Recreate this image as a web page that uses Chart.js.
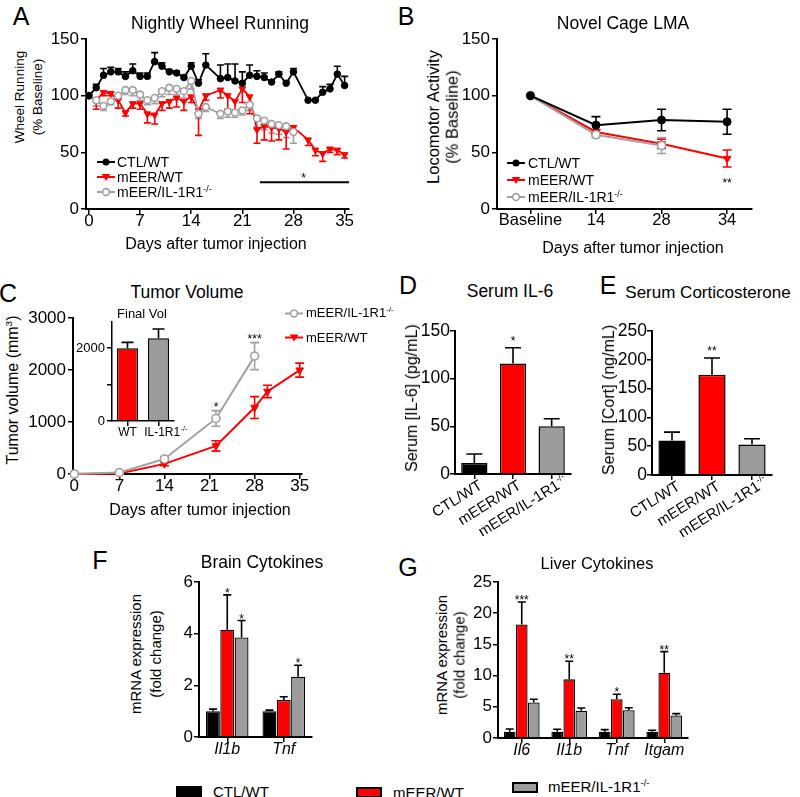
<!DOCTYPE html>
<html>
<head>
<meta charset="utf-8">
<script src="https://cdn.jsdelivr.net/npm/chart.js@4.4.1/dist/chart.umd.min.js"></script>
<style>
  body { margin: 0; width: 800px; height: 797px; overflow: hidden; position: relative; background: #fff;
         font-family: "Liberation Sans", Arial, sans-serif; color: #000; }
  .t { position: absolute; white-space: nowrap; line-height: 1; transform: translate(-50%, -50%); }
  .r { transform: translate(-50%, -50%) rotate(-90deg); }
  canvas { position: absolute; }
  sup { font-size: 62%; vertical-align: 0; position: relative; top: -0.6em; }
</style>
</head>
<body>
<script>
// ---- A: nightly wheel running (% baseline) ----
const aDays = [0,1,2,3,4,5,6,7,8,9,10,11,12,13,14,15,16,17,18,19,20,21,22,23,24,25,26,27,28,29,30,31,32,33,34,35];
const aCtl = [100,107,118,121,121,117,122,117,117,130,126,121,120,116,126,111,127,null,115,116,113,111,118,117,116,112,119,111,121,null,96,96,103,106,119,109];
const aCtlErr = [0,3,6,4,3,4,6,3,3,8,3,2,2,2,3,3,10,null,12,12,15,10,9,5,4,2,2,2,3,null,0,0,5,4,7,8];
const aRed = [100,96,103,102,96,85,93,93,84,83,93,95,98,95,99,87,100,null,105,100,95,106,99,70,73,72,71,68,72,null,61,52,49,53,52,48];
const aRedErr = [0,8,3,2,7,3,4,5,8,8,6,6,8,8,5,22,4,null,7,12,8,12,15,12,12,12,10,15,5,null,5,5,7,3,4,3];
const aGray = [100,96,91,95,100,105,105,101,96,98,104,107,106,104,113,84,90,null,84,86,85,87,92,80,78,75,74,73,68];
const aGrayErr = [0,5,4,3,4,4,5,5,4,5,5,6,5,6,7,4,4,null,4,5,4,4,5,8,8,8,8,10,10];
const aSigDays = [23.4, 35.6];
const aSigLevel = 23.5;
const aStar = { x: 29.4, y: 30, text: '*' };
const aXTicks = [0, 7, 14, 21, 28, 35];
const aYTicks = [0, 50, 100, 150];

// ---- B: novel cage LMA ----
const bLabels = ['Baseline', '14', '28', '34'];
const bCtl = [100, 74, 78.5, 77];
const bCtlErr = [0, 7.5, 9.5, 11];
const bRed = [100, 68, 57.5, 44.5];
const bRedErr = [0, 2, 4, 7.5];
const bGray = [100, 65.5, 56];
const bGrayErr = [0, 2.5, 7];
const bStar = { x: 3, y: 25, text: '**' };
const bYTicks = [0, 50, 100, 150];

// ---- C: tumor volume ----
const cGrayDays = [0, 7, 14, 22, 28];
const cGray = [0, 30, 290, 1070, 2270];
const cGrayErr = [0, 15, 40, 150, 260];
const cGrayStars = ['', '', '', '*', '***'];
const cRedDays = [0, 7, 14, 22, 28, 30, 35];
const cRed = [0, 10, 195, 540, 1280, 1590, 2000];
const cRedErr = [0, 10, 35, 100, 210, 120, 135];
const cXTicks = [0, 7, 14, 21, 28, 35];
const cYTicks = [0, 1000, 2000, 3000];
const insetLabels = ['WT', 'IL-1R1^-/-'];
const insetVals = [1990, 2270];
const insetErr = [165, 250];
const insetYTicks = [0, 1000, 2000];

// ---- D / E: serum ----
const groupLabels = ['CTL/WT', 'mEER/WT', 'mEER/IL-1R1^-/-'];
const dVals = [11.5, 116, 50];
const dErr = [9.5, 16.5, 8];
const dStars = ['', '*', ''];
const dYTicks = [0, 50, 100, 150];
const eVals = [60, 174, 53];
const eErr = [14.5, 29, 10];
const eStars = ['', '**', ''];
const eYTicks = [0, 50, 100, 150, 200, 250];

// ---- F: brain cytokines ----
const fLabels = ['Il1b', 'Tnf'];
const fCtl = [1.0, 1.0];
const fCtlErr = [0.08, 0.04];
const fRed = [4.15, 1.43];
const fRedErr = [1.35, 0.13];
const fRedStars = ['*', ''];
const fGray = [3.85, 2.33];
const fGrayErr = [0.66, 0.45];
const fGrayStars = ['*', '*'];
const fYTicks = [0, 2, 4, 6];

// ---- G: liver cytokines ----
const gLabels = ['Il6', 'Il1b', 'Tnf', 'Itgam'];
const gCtl = [1.0, 1.0, 1.0, 1.0];
const gCtlErr = [0.45, 0.4, 0.35, 0.25];
const gRed = [18.2, 9.4, 6.2, 10.45];
const gRedErr = [3.6, 2.9, 0.8, 3.4];
const gRedStars = ['***', '**', '*', '**'];
const gGray = [5.7, 4.35, 4.45, 3.6];
const gGrayErr = [0.5, 0.45, 0.4, 0.3];
const gYTicks = [0, 5, 10, 15, 20, 25];

const FONT = '"Liberation Sans", Arial, sans-serif';
const BLACK = '#000', RED = '#ff0000', GRAY = '#a0a0a0', BARGRAY = '#9c9c9c';

function val(d) { return d && typeof d === 'object' ? d.y : d; }
function pts(xs, ys) { return ys.map((y, i) => ({ x: xs[i], y })); }

// html text helpers
function txt(x, y, html, size, rot, extraCss) {
  const d = document.createElement('div');
  d.className = 't' + (rot ? ' r' : '');
  d.style.left = x + 'px';
  d.style.top = y + 'px';
  d.style.fontSize = size + 'px';
  if (extraCss) d.style.cssText += extraCss;
  d.innerHTML = html;
  document.body.appendChild(d);
}

function markerSvg(kind, color) {
  let m = '';
  if (kind === 'dot') m = `<circle cx="9" cy="6" r="3.5" fill="${color}"/>`;
  if (kind === 'tri') m = `<polygon points="9,10 4.6,3 13.4,3" fill="${color}"/>`;
  if (kind === 'open') m = `<circle cx="9" cy="6" r="3.4" fill="#fff" stroke="${color}" stroke-width="1.6"/>`;
  return `<svg width="18" height="12" style="display:block"><line x1="0" y1="6" x2="18" y2="6" stroke="${color}" stroke-width="2"/>${m}</svg>`;
}

function legendItem(x, y, kind, color, html, size, gap) {
  const d = document.createElement('div');
  d.style.cssText = `position:absolute;left:${x}px;top:${y}px;transform:translateY(-50%);display:flex;align-items:center;font-size:${size}px;white-space:nowrap;line-height:1`;
  d.innerHTML = markerSvg(kind, color) + `<span style="margin-left:${gap}px">${html}</span>`;
  document.body.appendChild(d);
}

function makeCanvas(a, m) {
  const c = document.createElement('canvas');
  const w = a.r - a.l + m[0] + m[2], h = a.b - a.t + m[1] + m[3];
  c.width = w; c.height = h;
  c.style.left = (a.l - m[0]) + 'px';
  c.style.top = (a.t - m[1]) + 'px';
  c.style.width = w + 'px';
  c.style.height = h + 'px';
  document.body.appendChild(c);
  return c;
}

// scales
function ySc(min, max, ticks, size, w, cb, bw, pad) {
  return {
    type: 'linear', min, max,
    afterBuildTicks: s => { s.ticks = ticks.map(v => ({ value: v })); },
    afterFit: s => { s.width = w; },
    ticks: { color: BLACK, font: { family: FONT, size }, padding: pad == null ? 2 : pad, callback: cb || (v => String(v)) },
    grid: { drawOnChartArea: false, color: BLACK, lineWidth: 1.5, tickLength: 5 },
    border: { color: BLACK, width: bw || 2 }
  };
}
function xLin(min, max, ticks, size, h, cb) {
  return {
    type: 'linear', min, max,
    afterBuildTicks: s => { s.ticks = ticks.map(v => ({ value: v })); },
    afterFit: s => { s.height = h; },
    ticks: { color: BLACK, font: { family: FONT, size }, padding: -3, maxRotation: 0, callback: cb || (v => String(v)) },
    grid: { drawOnChartArea: false, color: BLACK, lineWidth: 1.5, tickLength: 5 },
    border: { color: BLACK, width: 2 }
  };
}
function xCat(h, size, display, bw) {
  return {
    type: 'category', offset: true,
    afterFit: s => { s.height = h; },
    ticks: { display, color: BLACK, font: { family: FONT, size, style: 'italic' }, padding: -2, autoSkip: false, maxRotation: 0 },
    grid: { drawOnChartArea: false, offset: false, color: BLACK, lineWidth: 1.5, tickLength: 5 },
    border: { color: BLACK, width: bw || 2 }
  };
}

function baseOpts(m, scales) {
  return {
    responsive: false, animation: false, events: [],
    layout: { padding: { left: 0, top: m[1], right: m[2], bottom: 0 } },
    scales,
    plugins: { legend: { display: false }, tooltip: { enabled: false } }
  };
}

// error bars drawn under the marks
const errorBars = {
  id: 'errorBars',
  beforeDatasetsDraw(chart) {
    const ctx = chart.ctx;
    chart.data.datasets.forEach((ds, i) => {
      if (!ds.errors) return;
      const meta = chart.getDatasetMeta(i);
      const ys = chart.scales[meta.yAxisID];
      ctx.save();
      ctx.strokeStyle = ds.errColor || ds.borderColor;
      ctx.lineWidth = 1.6;
      meta.data.forEach((el, j) => {
        const v = val(ds.data[j]), e = ds.errors[j];
        if (v == null || !e || !isFinite(el.x)) return;
        const dir = ds.errDir || 'up';
        const yc = ys.getPixelForValue(v);
        const top = ys.getPixelForValue(v + e), bot = ys.getPixelForValue(v - e);
        const y1 = dir === 'down' ? yc : top, y2 = dir === 'up' ? yc : bot;
        const cw = ds.capW || 4;
        ctx.beginPath();
        ctx.moveTo(el.x, y1); ctx.lineTo(el.x, y2);
        if (dir !== 'down') { ctx.moveTo(el.x - cw, top); ctx.lineTo(el.x + cw, top); }
        if (dir !== 'up') { ctx.moveTo(el.x - cw, bot); ctx.lineTo(el.x + cw, bot); }
        ctx.stroke();
      });
      ctx.restore();
    });
  }
};

function starText(gap, size, extra) {
  return {
    id: 'starText',
    afterDatasetsDraw(chart) {
      const ctx = chart.ctx;
      ctx.save();
      ctx.fillStyle = BLACK; ctx.textAlign = 'center'; ctx.textBaseline = 'alphabetic';
      ctx.font = `${size}px ${FONT}`;
      chart.data.datasets.forEach((ds, i) => {
        if (!ds.stars) return;
        const meta = chart.getDatasetMeta(i), ys = chart.scales[meta.yAxisID];
        meta.data.forEach((el, j) => {
          const s = ds.stars[j];
          if (!s) return;
          const v = val(ds.data[j]), e = (ds.errors && ds.errors[j]) || 0;
          ctx.fillText(s, el.x, ys.getPixelForValue(v + e) - gap + size * 0.55);
        });
      });
      (extra || []).forEach(t => {
        ctx.fillText(t.text, chart.scales.x.getPixelForValue(t.x), chart.scales.y.getPixelForValue(t.y) + size * 0.55);
      });
      ctx.restore();
    }
  };
}

// tick labels with a superscript part ("base^sup"), optionally rotated
function richTicks(labels, size, rot, dx, dy) {
  return {
    id: 'richTicks',
    afterDraw(chart) {
      const ctx = chart.ctx, xs = chart.scales.x;
      const big = `${size}px ${FONT}`, small = `${Math.round(size * 0.62)}px ${FONT}`;
      ctx.save();
      ctx.fillStyle = BLACK; ctx.textBaseline = 'alphabetic'; ctx.textAlign = 'left';
      labels.forEach((lab, i) => {
        const parts = lab.split('^');
        ctx.font = big; const wb = ctx.measureText(parts[0]).width;
        ctx.font = small; const ws = parts[1] ? ctx.measureText(parts[1]).width : 0;
        ctx.save();
        ctx.translate(xs.getPixelForTick(i) + (Array.isArray(dx) ? dx[i] : dx), xs.top + dy);
        let x0 = -(wb + ws) / 2;
        if (rot) { ctx.rotate(-rot * Math.PI / 180); x0 = -wb; }
        ctx.font = big; ctx.fillText(parts[0], x0, 0);
        if (parts[1]) { ctx.font = small; ctx.fillText(parts[1], x0 + wb + 0.5, -size * 0.42); }
        ctx.restore();
      });
      ctx.restore();
    }
  };
}

function lineDs(data, color, kind, errs, dir, r, cap, lw) {
  return {
    data, borderColor: color, borderWidth: lw, tension: 0, spanGaps: true, clip: false,
    pointStyle: kind === 'tri' ? 'triangle' : 'circle',
    pointRotation: kind === 'tri' ? 180 : 0,
    pointRadius: kind === 'tri' ? r + 0.6 : r,
    pointBackgroundColor: kind === 'open' ? '#fff' : color,
    pointBorderColor: color,
    pointBorderWidth: kind === 'open' ? 1.6 : 1,
    errors: errs, errDir: dir, capW: cap
  };
}

// ---------- Panel A ----------
{
  const area = { l: 86, t: 39, r: 349, b: 209 }, m = [40, 14, 14, 30];
  new Chart(makeCanvas(area, m), {
    type: 'line',
    data: {
      datasets: [
        lineDs(pts(aDays, aCtl), BLACK, 'dot', aCtlErr, 'up', 3.3, 3.5, 1.8),
        lineDs(pts(aDays, aGray), GRAY, 'open', aGrayErr, 'down', 3.4, 3.5, 1.8),
        lineDs(pts(aDays, aRed), RED, 'tri', aRedErr, 'down', 3.3, 3.5, 1.8),
        { data: aSigDays.map(x => ({ x, y: aSigLevel })), borderColor: BLACK, borderWidth: 2, pointRadius: 0, clip: false }
      ]
    },
    options: baseOpts(m, { x: xLin(-0.4, 35.6, aXTicks, 17, m[3]), y: ySc(0, 150, aYTicks, 17, m[0]) }),
    plugins: [errorBars, starText(0, 12, [aStar])]
  });
}

// ---------- Panel B ----------
{
  const area = { l: 497, t: 39, r: 752, b: 209 }, m = [40, 14, 12, 30];
  const idx = bLabels.map((_, i) => i);
  new Chart(makeCanvas(area, m), {
    type: 'line',
    data: {
      datasets: [
        lineDs(pts(idx, bCtl), BLACK, 'dot', bCtlErr, 'both', 4, 4.5, 2),
        lineDs(pts(idx, bGray), GRAY, 'open', bGrayErr, 'both', 4, 4.5, 2),
        lineDs(pts(idx, bRed), RED, 'tri', bRedErr, 'both', 3.8, 4.5, 2)
      ]
    },
    options: baseOpts(m, {
      x: xLin(-0.51, 3.38, idx, 16.5, m[3], v => bLabels[v]),
      y: ySc(0, 150, bYTicks, 17, m[0])
    }),
    plugins: [errorBars, starText(0, 12, [bStar])]
  });
}

// ---------- Panel C ----------
{
  const area = { l: 73, t: 318, r: 302, b: 474 }, m = [46, 12, 14, 30];
  new Chart(makeCanvas(area, m), {
    type: 'line',
    data: {
      datasets: [
        Object.assign(lineDs(pts(cGrayDays, cGray), GRAY, 'open', cGrayErr, 'both', 4, 4.5, 2), { stars: cGrayStars }),
        lineDs(pts(cRedDays, cRed), RED, 'tri', cRedErr, 'both', 3.8, 4.5, 2)
      ]
    },
    options: baseOpts(m, { x: xLin(-0.2, 35.36, cXTicks, 17, m[3]), y: ySc(0, 3000, cYTicks, 17, m[0]) }),
    plugins: [errorBars, starText(6, 12)]
  });
}
// inset: final volume
{
  const area = { l: 112, t: 320, r: 174, b: 421 }, m = [38, 8, 16, 24];
  new Chart(makeCanvas(area, m), {
    type: 'bar',
    data: {
      labels: insetLabels,
      datasets: [{ data: insetVals, backgroundColor: [RED, BARGRAY], borderColor: BLACK, borderWidth: 1.5,
                   categoryPercentage: 1, barPercentage: 0.68, errors: insetErr, errDir: 'up', capW: 6, errColor: BLACK }]
    },
    options: baseOpts(m, {
      x: xCat(m[3], 12, false, 1.5),
      y: ySc(0, 2718, insetYTicks, 13, m[0], v => (v === 1000 ? '' : String(v)), 1.5)
    }),
    plugins: [errorBars, richTicks(insetLabels, 12, 0, [0, 7], 15)]
  });
}

// ---------- Panels D, E ----------
function serumChart(area, m, vals, errs, stars, yMax, yTicks) {
  new Chart(makeCanvas(area, m), {
    type: 'bar',
    data: {
      labels: groupLabels,
      datasets: [{ data: vals, backgroundColor: [BLACK, RED, BARGRAY], borderColor: BLACK, borderWidth: 1.5,
                   categoryPercentage: 1, barPercentage: 0.68, errors: errs, errDir: 'up', capW: 8, errColor: BLACK, stars }]
    },
    options: baseOpts(m, { x: xCat(m[3], 15, false), y: ySc(0, yMax, yTicks, 17.5, m[0], null, 2, 0) }),
    plugins: [errorBars, starText(9.5, 12), richTicks(groupLabels, 15, 32, 9, 14)]
  });
}
serumChart({ l: 455, t: 331, r: 571, b: 474 }, [40, 12, 16, 62], dVals, dErr, dStars, 150, dYTicks);
serumChart({ l: 652, t: 331, r: 772, b: 475 }, [40, 12, 22, 62], eVals, eErr, eStars, 250, eYTicks);

// ---------- Panels F, G ----------
function cytoChart(area, m, labels, sets, yMax, yTicks) {
  const colors = [BLACK, RED, BARGRAY];
  new Chart(makeCanvas(area, m), {
    type: 'bar',
    data: {
      labels,
      datasets: sets.map((s, i) => ({
        data: s[0], errors: s[1], stars: s[2], backgroundColor: colors[i], borderColor: BLACK, borderWidth: 1.3,
        categoryPercentage: 0.76, barPercentage: 0.97, errDir: 'up', capW: 4, errColor: BLACK
      }))
    },
    options: baseOpts(m, { x: xCat(m[3], 16, true), y: ySc(0, yMax, yTicks, 17, m[0], null, 2, 1) }),
    plugins: [errorBars, starText(4.5, 12)]
  });
}
cytoChart({ l: 199, t: 582, r: 312, b: 737 }, [26, 12, 10, 30], fLabels,
  [[fCtl, fCtlErr, null], [fRed, fRedErr, fRedStars], [fGray, fGrayErr, fGrayStars]], 6, fYTicks);
cytoChart({ l: 498, t: 582, r: 688, b: 738 }, [32, 12, 12, 30], gLabels,
  [[gCtl, gCtlErr, null], [gRed, gRedErr, gRedStars], [gGray, gGrayErr, null]], 25, gYTicks);

// ---------- text ----------
const KO = 'mEER/IL-1R1<sup>-/-</sup>';
[['A', 21, 16], ['B', 406, 16], ['C', 8, 293], ['D', 408, 285], ['E', 608, 285], ['F', 100, 560], ['G', 408, 567]]
  .forEach(([l, x, y]) => txt(x, y, l, 25));

txt(220, 24, 'Nightly Wheel Running', 17.5);
txt(623, 24, 'Novel Cage LMA', 17.5);
txt(187, 293, 'Tumor Volume', 17.5);
txt(142, 313, 'Final Vol', 13);
txt(510, 292, 'Serum IL-6', 17.5);
txt(708, 292, 'Serum Corticosterone', 17);
txt(262, 563, 'Brain Cytokines', 17.5);
txt(597, 563, 'Liver Cytokines', 16.5);

txt(216, 244, 'Days after tumor injection', 16);
txt(633, 248, 'Days after tumor injection', 16);
txt(200, 510, 'Days after tumor injection', 16);

txt(20, 97, 'Wheel Running', 13.5, true);
txt(38, 97, '(% Baseline)', 13.5, true);
txt(433, 117, 'Locomotor Activity', 16.5, true);
txt(452, 117, '(% Baseline)', 16.5, true);
txt(13, 390, 'Tumor volume (mm<sup>3</sup>)', 16, true);
txt(412, 398, 'Serum [IL-6] (pg/mL)', 16, true);
txt(609, 400, 'Serum [Cort] (ng/mL)', 16, true);
txt(135, 654, 'mRNA expression', 15, true);
txt(155, 654, '(fold change)', 15, true);
txt(441, 655, 'mRNA expression', 15, true);
txt(459, 655, '(fold change)', 15, true);

// legends
legendItem(97, 162, 'dot', BLACK, 'CTL/WT', 14, 2);
legendItem(97, 177, 'tri', RED, 'mEER/WT', 14, 2);
legendItem(97, 192, 'open', GRAY, KO, 14, 2);
legendItem(507, 163, 'dot', BLACK, 'CTL/WT', 14, 3);
legendItem(507, 180, 'tri', RED, 'mEER/WT', 14, 3);
legendItem(507, 197, 'open', GRAY, KO, 14, 3);
legendItem(285, 313, 'open', GRAY, KO, 13, 3);
legendItem(285, 337, 'tri', RED, 'mEER/WT', 13, 3);

function boxLegend(x, y, fill, tx, ty, html) {
  const b = document.createElement('div');
  b.style.cssText = `position:absolute;left:${x}px;top:${y}px;width:22px;height:7px;border:2px solid #000;background:${fill}`;
  document.body.appendChild(b);
  txt(tx, ty, html, 15, false, 'transform:translate(0,-50%)');
}
boxLegend(176, 786, BLACK, 213, 791, 'CTL/WT');
boxLegend(356, 787, RED, 393, 792, 'mEER/WT');
boxLegend(512, 782, BARGRAY, 548, 787, KO);
</script>
</body>
</html>
